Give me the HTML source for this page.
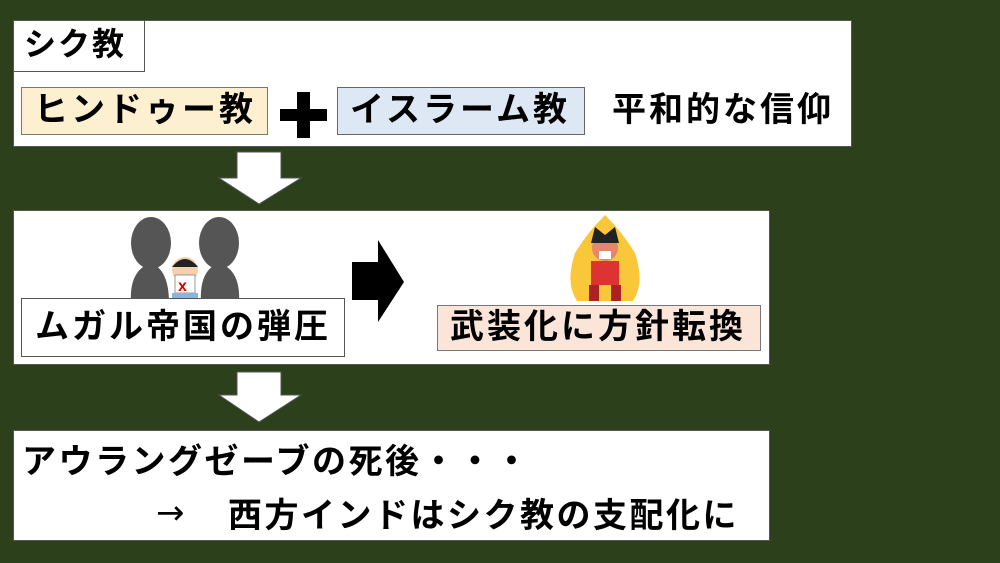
<!DOCTYPE html>
<html><head><meta charset="utf-8"><style>
body{margin:0;width:1000px;height:563px;background:#2b401b;position:relative;overflow:hidden;font-family:"Liberation Sans","Noto Sans CJK JP",sans-serif;font-weight:bold;color:#000}
.b{position:absolute;box-sizing:border-box}
.t{position:absolute;white-space:nowrap;line-height:1}
</style></head><body>
<div class="b" style="left:13px;top:20px;width:839px;height:127px;background:#fff;border:1px solid #555"></div>
<div class="b" style="left:13px;top:20px;width:132px;height:52px;border:1px solid #555;background:#fff"></div>
<div class="t" style="left:24px;top:28px;font-size:32px;letter-spacing:2px">シク教</div>
<div class="b" style="left:21px;top:87px;width:247px;height:48px;background:#fdf0d0;border:1px solid #777"></div>
<div class="t" style="left:34px;top:93px;font-size:34px;letter-spacing:3px">ヒンドゥー教</div>
<div class="b" style="left:280px;top:109px;width:47px;height:12px;background:#000"></div>
<div class="b" style="left:297px;top:92px;width:13px;height:46px;background:#000"></div>
<div class="b" style="left:337px;top:87px;width:248px;height:48px;background:#dde8f4;border:1px solid #666"></div>
<div class="t" style="left:350px;top:93px;font-size:34px;letter-spacing:3px">イスラーム教</div>
<div class="t" style="left:612px;top:93px;font-size:34px;letter-spacing:3px">平和的な信仰</div>

<svg class="b" style="left:215px;top:150px" width="90" height="58"><polygon points="22,2 66,2 66,28 86,28 44,54 4,28 22,28" fill="#fff" stroke="#555"/></svg>

<div class="b" style="left:13px;top:210px;width:757px;height:155px;background:#fff;border:1px solid #555"></div>
<svg class="b" style="left:125px;top:215px" width="120" height="90">
<ellipse cx="26" cy="28" rx="20" ry="26" fill="#555"/><ellipse cx="94" cy="28" rx="20" ry="26" fill="#555"/>
<path d="M6 88 Q4 55 26 48 Q44 55 44 88Z" fill="#555"/><path d="M76 88 Q74 55 94 48 Q116 55 114 88Z" fill="#555"/>
<circle cx="60" cy="55" r="13" fill="#f5d0b0"/><path d="M47 52 Q60 36 73 52Z" fill="#222"/>
<rect x="50" y="60" width="20" height="18" fill="#fff" stroke="#999"/><text x="53" y="76" font-size="16" fill="#d00" font-family="Liberation Sans">x</text>
<rect x="47" y="78" width="26" height="10" fill="#8ab4e0"/></svg>
<svg class="b" style="left:563px;top:213px" width="84" height="90">
<path d="M42 2 Q60 20 72 40 Q82 70 70 88 L14 88 Q2 70 12 40 Q24 20 42 2Z" fill="#fbc73a"/>
<circle cx="42" cy="35" r="13" fill="#e8856a"/><path d="M28 30 L32 14 L42 22 L52 14 L56 30Z" fill="#222"/>
<rect x="36" y="38" width="12" height="8" fill="#fff"/>
<rect x="28" y="48" width="28" height="24" fill="#d33"/><rect x="26" y="72" width="10" height="16" fill="#a22"/><rect x="48" y="72" width="10" height="16" fill="#a22"/></svg>
<div class="b" style="left:21px;top:298px;width:324px;height:59px;background:#fff;border:1px solid #555"></div>
<div class="t" style="left:35px;top:310px;font-size:34px;letter-spacing:3px">ムガル帝国の弾圧</div>
<svg class="b" style="left:352px;top:240px" width="54" height="84"><polygon points="0,22 26,22 26,0 52,42 26,82 26,60 0,60" fill="#000"/></svg>
<div class="b" style="left:437px;top:305px;width:324px;height:46px;background:#fbe5d8;border:1px solid #777"></div>
<div class="t" style="left:450px;top:310px;font-size:34px;letter-spacing:3px">武装化に方針転換</div>

<svg class="b" style="left:215px;top:370px" width="90" height="56"><polygon points="22,2 66,2 66,25 86,25 44,52 4,25 22,25" fill="#fff" stroke="#555"/></svg>

<div class="b" style="left:13px;top:430px;width:757px;height:111px;background:#fff;border:1px solid #555"></div>
<div class="t" style="left:22px;top:445px;font-size:34px;letter-spacing:2.5px">アウラングゼーブの死後・・・</div>
<div class="t" style="left:156px;top:496px;font-size:34px;font-family:'DejaVu Sans',sans-serif;font-weight:normal">→</div>
<div class="t" style="left:228px;top:499px;font-size:34px;letter-spacing:2.5px">西方インドはシク教の支配化に</div>
</body></html>
